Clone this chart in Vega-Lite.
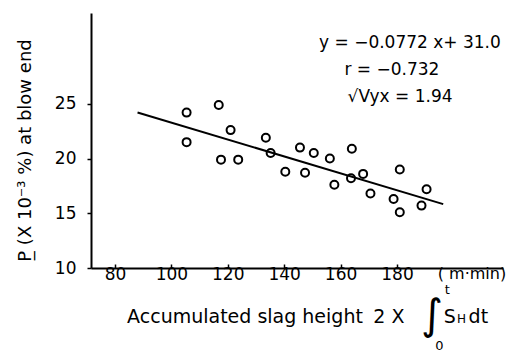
{
  "$schema": "https://vega.github.io/schema/vega-lite/v6.json",
  "width": 412,
  "height": 255,
  "autosize": "none",
  "padding": {"left": 91, "top": 13, "right": 20, "bottom": 88},
  "background": "white",
  "config": {
    "view": {"stroke": null},
    "font": "DejaVu Sans",
    "axis": {"grid": false, "domainColor": "black", "domainWidth": 2, "tickColor": "black", "tickWidth": 1.5, "labelColor": "black", "labelFont": "DejaVu Sans", "labelFontSize": 16, "titleColor": "black"}
  },
  "datasets": {
    "pts": [
      {"slag": 105.4, "P": 24.2}, {"slag": 105.4, "P": 21.5}, {"slag": 116.8, "P": 24.9},
      {"slag": 117.6, "P": 19.9}, {"slag": 121.0, "P": 22.6}, {"slag": 123.7, "P": 19.9},
      {"slag": 133.5, "P": 21.9}, {"slag": 135.2, "P": 20.5}, {"slag": 140.4, "P": 18.8},
      {"slag": 145.6, "P": 21.0}, {"slag": 147.4, "P": 18.7}, {"slag": 150.5, "P": 20.5},
      {"slag": 156.2, "P": 20.0}, {"slag": 157.8, "P": 17.6}, {"slag": 164.0, "P": 20.9},
      {"slag": 163.7, "P": 18.2}, {"slag": 168.0, "P": 18.6}, {"slag": 170.6, "P": 16.8},
      {"slag": 181.0, "P": 19.0}, {"slag": 178.8, "P": 16.3}, {"slag": 181.0, "P": 15.1},
      {"slag": 190.5, "P": 17.2}, {"slag": 188.7, "P": 15.7}
    ],
    "fit": [{"slag": 88, "P": 24.21}, {"slag": 196.4, "P": 15.84}],
    "eq": [
      {"label": "y = −0.0772 x+ 31.0", "slag": 184.6, "P": 30.6},
      {"label": "r = −0.732", "slag": 178.2, "P": 28.1},
      {"label": "√Vyx = 1.94", "slag": 181.1, "P": 25.6}
    ]
  },
  "layer": [
    {
      "data": {"name": "pts"},
      "mark": {"type": "point", "shape": "circle", "filled": false, "color": "black", "size": 64, "strokeWidth": 2, "opacity": 1},
      "encoding": {
        "x": {"field": "slag", "type": "quantitative", "scale": {"domain": [71.5, 217.6], "nice": false, "zero": false},
          "axis": {"values": [80, 100, 120, 140, 160, 180], "tickSize": -4, "labelPadding": 2, "title": null, "labelFontSize": 17}},
        "y": {"field": "P", "type": "quantitative", "scale": {"domain": [10, 33.3], "nice": false, "zero": false},
          "axis": {"values": [10, 15, 20, 25], "tickSize": 4, "labelPadding": 11, "labelFontSize": 17, "title": "P̲ (X 10⁻³ %) at blow end", "titleFontSize": 18, "titleFontWeight": "normal", "titlePadding": 20, "titleY": 137}}
      }
    },
    {
      "data": {"name": "fit"},
      "mark": {"type": "line", "color": "black", "strokeWidth": 2},
      "encoding": {"x": {"field": "slag", "type": "quantitative"}, "y": {"field": "P", "type": "quantitative"}}
    },
    {
      "data": {"name": "eq"},
      "mark": {"type": "text", "color": "black", "fontSize": 17, "align": "center", "baseline": "middle"},
      "encoding": {"x": {"field": "slag", "type": "quantitative"}, "y": {"field": "P", "type": "quantitative"}, "text": {"field": "label"}}
    },
    {
      "data": {"values": [{"label": "( m·min)", "slag": 206.6, "P": 9.45}]},
      "mark": {"type": "text", "color": "black", "fontSize": 16, "align": "center", "baseline": "middle"},
      "encoding": {"x": {"field": "slag", "type": "quantitative"}, "y": {"field": "P", "type": "quantitative"}, "text": {"field": "label"}}
    },
    {
      "data": {"values": [{"label": "Accumulated slag height", "slag": 84.3, "P": 5.53}, {"label": "2 X", "slag": 171.6, "P": 5.53}, {"label": "S", "slag": 196.6, "P": 5.53}, {"label": "dt", "slag": 205.4, "P": 5.53}]},
      "mark": {"type": "text", "color": "black", "fontSize": 19, "align": "left", "baseline": "middle"},
      "encoding": {"x": {"field": "slag", "type": "quantitative"}, "y": {"field": "P", "type": "quantitative"}, "text": {"field": "label"}}
    },
    {
      "data": {"values": [{"label": "∫", "slag": 188.6, "P": 5.6}]},
      "mark": {"type": "text", "color": "black", "fontSize": 42, "align": "left", "baseline": "middle"},
      "encoding": {"x": {"field": "slag", "type": "quantitative"}, "y": {"field": "P", "type": "quantitative"}, "text": {"field": "label"}}
    },
    {
      "data": {"values": [{"label": "t", "slag": 196.9, "P": 8.0}, {"label": "0", "slag": 193.6, "P": 2.9}]},
      "mark": {"type": "text", "color": "black", "fontSize": 13, "align": "left", "baseline": "middle"},
      "encoding": {"x": {"field": "slag", "type": "quantitative"}, "y": {"field": "P", "type": "quantitative"}, "text": {"field": "label"}}
    },
    {
      "data": {"values": [{"label": "H", "slag": 201.3, "P": 5.3}]},
      "mark": {"type": "text", "color": "black", "fontSize": 12, "align": "left", "baseline": "middle"},
      "encoding": {"x": {"field": "slag", "type": "quantitative"}, "y": {"field": "P", "type": "quantitative"}, "text": {"field": "label"}}
    }
  ]
}
